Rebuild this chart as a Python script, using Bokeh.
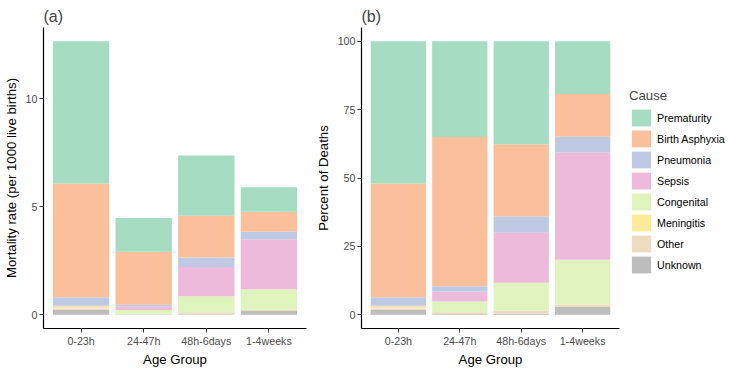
from bokeh.plotting import figure
from bokeh.models import (ColumnDataSource, FactorRange, Range1d, FixedTicker,
                          Legend, LegendItem)
from bokeh.layouts import row
from bokeh.embed import file_html
from bokeh.resources import INLINE

# Neonatal mortality by age group and cause (deaths per 1000 live births)
age_groups = ["0-23h", "24-47h", "48h-6days", "1-4weeks"]

# stacking order, bottom to top
causes = ["Unknown", "Other", "Meningitis", "Congenital",
          "Sepsis", "Pneumonia", "Birth Asphyxia", "Prematurity"]

unknown        = [0.247, 0.013, 0.029, 0.171]
other          = [0.044, 0.031, 0.088, 0.053]
meningitis     = [0.076, 0.004, 0.007, 0.006]
congenital     = [0.019, 0.170, 0.736, 0.956]
sepsis         = [0.044, 0.161, 1.347, 2.313]
pneumonia      = [0.380, 0.090, 0.442, 0.342]
birth_asphyxia = [5.262, 2.442, 1.936, 0.920]
prematurity    = [6.578, 1.568, 2.775, 1.139]

rate_ticks = [0, 5, 10]
pct_ticks = [0, 25, 50, 75, 100]

# pastel palette, same order as `causes`
colors = ["#BDBDBD", "#EEDCC0", "#FDEB9A", "#DFF3BC",
          "#EDBADB", "#BECAE3", "#F9C09B", "#A6DDC2"]

series = [unknown, other, meningitis, congenital,
          sepsis, pneumonia, birth_asphyxia, prematurity]

totals = [sum(vals) for vals in zip(*series)]

rate_data = {"age": age_groups}
pct_data = {"age": age_groups}
for name, vals in zip(causes, series):
    rate_data[name] = vals
    pct_data[name] = [100.0 * v / t for v, t in zip(vals, totals)]

FONT = "Liberation Sans"


def style(p, ticks, ylabel):
    p.title.text_font = FONT
    p.title.text_font_size = "16px"
    p.title.text_font_style = "normal"
    p.title.align = "left"
    p.title.standoff = 6
    p.outline_line_color = None
    p.xgrid.visible = False
    p.ygrid.visible = False
    p.yaxis.ticker = FixedTicker(ticks=ticks)
    p.yaxis.axis_label = ylabel
    p.xaxis.axis_label = "Age Group"
    for ax in (p.xaxis[0], p.yaxis[0]):
        ax.axis_line_color = "black"
        ax.axis_line_width = 1.2
        ax.major_tick_line_color = "#333333"
        ax.major_tick_in = 0
        ax.major_tick_out = 4
        ax.minor_tick_line_color = None
        ax.major_label_text_font = FONT
        ax.major_label_text_font_size = "10.7px"
        ax.major_label_text_color = "#4D4D4D"
        ax.major_label_standoff = 2
        ax.axis_label_text_font = FONT
        ax.axis_label_text_font_size = "13.2px"
        ax.axis_label_text_font_style = "normal"
        ax.axis_label_text_color = "black"
    p.xaxis.axis_label_standoff = 2
    p.yaxis.axis_label_standoff = 4


# (a) mortality rate
p1 = figure(x_range=FactorRange(*age_groups, range_padding=0.05),
            y_range=Range1d(-0.05 * max(totals), 1.05 * max(totals)),
            frame_width=263, frame_height=301,
            min_border_left=40, min_border_right=2,
            min_border_top=27, min_border_bottom=40,
            title="(a)", toolbar_location=None, output_backend="svg")
p1.vbar_stack(causes, x="age", width=0.9, color=colors, line_color=None,
              source=ColumnDataSource(rate_data))
style(p1, rate_ticks, "Mortality rate (per 1000 live births)")

# (b) share of deaths
p2 = figure(x_range=FactorRange(*age_groups, range_padding=0.05),
            y_range=Range1d(-5, 105),
            frame_width=258, frame_height=301,
            min_border_left=53, min_border_right=117,
            min_border_top=27, min_border_bottom=40,
            title="(b)", toolbar_location=None, output_backend="svg")
renderers = p2.vbar_stack(causes, x="age", width=0.9, color=colors,
                          line_color=None, source=ColumnDataSource(pct_data))
style(p2, pct_ticks, "Percent of Deaths")

items = [LegendItem(label=c, renderers=[r])
         for c, r in zip(causes, renderers)][::-1]
legend = Legend(items=items, title="Cause", location=(10, 53),
                margin=0, padding=0, spacing=0,
                glyph_width=24, glyph_height=21, label_standoff=4,
                label_text_font=FONT, label_text_font_size="10.7px",
                label_text_color="black",
                title_text_font=FONT, title_text_font_size="13.2px",
                title_text_font_style="normal", title_standoff=4,
                border_line_color=None, background_fill_alpha=0)
p2.add_layout(legend, "right")

layout = row(p1, p2)

open("out.html", "w").write(file_html(layout, INLINE))
